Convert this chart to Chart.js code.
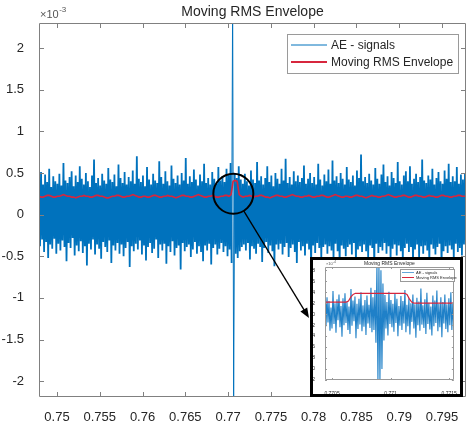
<!DOCTYPE html>
<html>
<head>
<meta charset="utf-8">
<script src="https://cdn.jsdelivr.net/npm/chart.js@4"></script>
<style>
html, body { margin: 0; padding: 0; background: #fff; }
#wrap { position: relative; width: 468px; height: 426px; }
#inset { position: absolute; left: 310px; top: 257px; width: 147px; height: 134px; border: 3px solid #000; background: #fff; }
</style>
</head>
<body>
<div id="wrap">
  <canvas id="main" width="468" height="426"></canvas>
  <div id="inset"><canvas id="zoom" width="147" height="134"></canvas></div>
</div>
<script>
const seriesNames = ['AE - signals', 'Moving RMS Envelope'];

// main plot: time window (s) and values in units of 1e-3
const tStart = 0.7479, tEnd = 0.7978;
const mainXTicks = [0.75, 0.755, 0.76, 0.765, 0.77, 0.775, 0.78, 0.785, 0.79, 0.795];
const mainYTicks = [-2, -1.5, -1, -0.5, 0, 0.5, 1, 1.5, 2];

const aeSignal = [
  .42,-.38,.51,-.30,.36,-.45,.48,-.33,.39,-.52,.55,-.36,.33,-.41,.46,-.29,.40,-.47,.37,-.35,
  .49,-.43,.35,-.31,.62,-.39,.41,-.56,.38,-.34,.45,-.40,.52,-.28,.34,-.49,.47,-.37,.39,-.44,
  .58,-.32,.43,-.46,.36,-.38,.50,-.61,.40,-.35,.33,-.42,.47,-.30,.66,-.48,.38,-.36,.44,-.41,
  .35,-.53,.49,-.33,.41,-.39,.37,-.45,.56,-.31,.42,-.58,.39,-.37,.48,-.43,.34,-.34,.60,-.47,
  .44,-.36,.38,-.50,.51,-.40,.36,-.33,.45,-.63,.40,-.38,.53,-.44,.37,-.35,.70,-.42,.43,-.31,
  .39,-.48,.47,-.37,.34,-.55,.57,-.39,.42,-.34,.36,-.46,.49,-.41,.41,-.30,.38,-.52,.64,-.36,
  .45,-.43,.37,-.35,.52,-.59,.40,-.38,.35,-.45,.59,-.32,.43,-.49,.38,-.40,.47,-.37,.36,-.66,
  .50,-.34,.41,-.44,.68,-.39,.37,-.36,.46,-.51,.39,-.42,.54,-.33,.42,-.47,.35,-.38,.48,-.45,
  .40,-.56,.61,-.37,.38,-.43,.44,-.35,.36,-.60,.51,-.40,.43,-.36,.37,-.48,.57,-.41,.41,-.34,
  .46,-.45,.39,-.38,.55,-.50,.48,-.42,.62,-.58,2.6,-2.18,.50,-.47,.44,-.52,.58,-.44,.42,-.39,
  .37,-.36,.49,-.43,.40,-.34,.35,-.54,.53,-.38,.42,-.41,.38,-.47,.63,-.35,.41,-.39,.46,-.57,
  .36,-.40,.44,-.33,.58,-.46,.39,-.37,.47,-.44,.34,-.62,.50,-.36,.43,-.42,.37,-.35,.55,-.48,
  .41,-.39,.67,-.34,.38,-.51,.45,-.40,.36,-.36,.52,-.45,.40,-.58,.47,-.33,.39,-.43,.44,-.38,
  .59,-.49,.37,-.35,.43,-.42,.50,-.64,.38,-.37,.45,-.46,.36,-.34,.61,-.40,.42,-.53,.35,-.39,
  .48,-.36,.40,-.47,.54,-.38,.37,-.43,.65,-.55,.41,-.35,.46,-.44,.38,-.61,.50,-.37,.43,-.41,
  .36,-.50,.57,-.39,.42,-.36,.39,-.48,.47,-.34,.35,-.57,.53,-.42,.44,-.38,.72,-.45,.40,-.36,
  .45,-.44,.38,-.52,.49,-.37,.41,-.40,.36,-.65,.56,-.35,.43,-.46,.37,-.39,.48,-.43,.60,-.34,
  .39,-.47,.46,-.38,.35,-.54,.51,-.41,.44,-.36,.38,-.49,.63,-.37,.40,-.44,.36,-.56,.47,-.40,
  .52,-.35,.40,-.45,.58,-.39,.37,-.60,.43,-.42,.49,-.36,.39,-.51,.45,-.38,.66,-.47,.41,-.37,
  .38,-.43,.47,-.58,.42,-.36,.55,-.41,.36,-.48,.44,-.39,.51,-.35,.40,-.63,.37,-.44,.53,-.38,
  .43,-.46,.61,-.37,.39,-.42,.46,-.53,.40,-.35,.57,-.45,.37,-.40,.48,-.49,.42,-.36,.50,-.44
];

const rmsEnvelope = [
  .22,.21,.21,.22,.23,.23,.22,.21,.21,.22,.22,.23,.24,.23,.22,
  .22,.21,.21,.20,.21,.22,.22,.23,.22,.22,.21,.21,.22,.23,.23,
  .22,.22,.21,.20,.20,.21,.22,.22,.23,.23,.22,.21,.21,.22,.22,
  .23,.24,.23,.22,.21,.21,.22,.22,.21,.21,.22,.23,.23,.22,.21,
  .21,.22,.22,.23,.22,.22,.21,.20,.21,.22,.23,.23,.22,.22,.21,
  .21,.22,.23,.24,.23,.22,.21,.21,.22,.22,.23,.22,.21,.21,.22,
  .22,.23,.23,.22,.24,.40,.41,.40,.24,.22,.21,.22,.22,.23,.22,
  .21,.22,.22,.23,.23,.22,.21,.21,.20,.21,.22,.23,.23,.22,.22,
  .21,.21,.22,.23,.24,.23,.22,.22,.21,.21,.22,.22,.23,.22,.21,
  .21,.22,.22,.23,.23,.22,.21,.21,.22,.23,.24,.23,.22,.21,.21,
  .22,.22,.21,.21,.22,.23,.23,.22,.22,.21,.20,.21,.22,.23,.22,
  .22,.21,.21,.22,.22,.23,.24,.23,.22,.21,.21,.22,.22,.23,.23,
  .22,.21,.21,.22,.23,.23,.22,.22,.21,.21,.22,.23,.22,.22,.21,
  .21,.22,.23,.23,.22,.22,.21,.21,.22,.22,.23,.23,.22,.22,.22
];

// zoomed inset: values in units of 1e-4
const zStart = 0.77044, zEnd = 0.77154;
const zoomXTicks = [0.7705, 0.771, 0.7715];
const zoomYTicks = [-12, -10, -8, -6, -4, -2, 0, 2, 4, 6, 8];

const zoomSignal = [
  1.8,-2.2,3.1,-1.5,2.4,-3.0,1.2,-2.6,4.2,-1.8,2.0,-3.4,2.7,-1.1,3.6,-2.4,1.5,-4.1,2.9,-2.0,
  3.8,-1.6,2.2,-2.9,1.4,-3.6,4.6,-2.1,2.5,-1.3,3.2,-4.4,1.9,-2.7,2.8,-1.9,4.0,-3.1,1.6,-2.3,
  2.6,-3.8,3.4,-1.7,1.7,-2.5,4.8,-3.3,3.1,-2.9,4.4,-5.2,9.0,-12.5,9.0,-12.5,8.0,-10.0,5.6,-4.8,
  3.5,-2.6,2.2,-3.9,4.1,-1.8,2.6,-2.4,1.9,-3.2,3.7,-1.6,2.8,-4.0,1.5,-2.1,3.3,-2.9,2.4,-1.7,
  4.4,-3.3,1.7,-2.2,2.9,-3.7,2.0,-1.4,3.6,-2.6,1.8,-4.3,3.0,-2.0,2.3,-3.0,4.7,-1.9,1.6,-2.5,
  2.7,-3.6,3.9,-1.8,2.1,-2.8,1.4,-3.9,3.4,-2.2,2.5,-1.6,4.3,-3.1,1.9,-2.4,3.1,-4.2,2.2,-1.7,
  3.6,-2.7,1.8,-3.3,2.9,-2.0,4.0,-2.9,2.1,-3.1
];

const zoomEnvelope = [
  2.2,2.2,2.2,2.2,2.2,2.2,2.2,2.2,2.2,2.2,
  2.4,3.1,3.6,3.8,
  3.8,3.8,3.8,3.8,3.8,3.8,3.8,3.8,3.8,3.8,3.8,3.8,3.8,3.8,3.8,3.8,3.8,3.8,3.8,3.8,3.8,
  3.6,2.8,2.2,
  2.0,2.0,2.0,2.0,2.0,2.0,2.0,2.0,2.0,2.0,2.0,2.0,2.0,2.0,2.0,2.0,2.0,2.0
];

// spot that the circle marks on the main plot (time, 1e-3)
const calloutAt = [0.77061, 0.25];

const blue = '#0072BD';
const red = '#D7263D';
const ink = '#262626';
const fam = '"Liberation Sans", Arial, sans-serif';

function toXY(vals, t0, t1) {
  return vals.map((v, i) => ({ x: t0 + (t1 - t0) * i / (vals.length - 1), y: v }));
}

// matlab-ish box with inward ticks, title, exponent and legend
function makeFrame(c) {
  return {
    id: 'frame',
    afterDatasetsDraw(chart) {
      const ctx = chart.ctx, a = chart.chartArea;
      const xs = chart.scales.x, ys = chart.scales.y;
      ctx.save();
      ctx.strokeStyle = c.axis;
      ctx.lineWidth = 1;
      ctx.beginPath();
      xs.ticks.forEach(t => {
        const p = Math.round(xs.getPixelForValue(t.value)) + 0.5;
        ctx.moveTo(p, a.bottom); ctx.lineTo(p, a.bottom - c.tick);
        ctx.moveTo(p, a.top); ctx.lineTo(p, a.top + c.tick);
      });
      ys.ticks.forEach(t => {
        const p = Math.round(ys.getPixelForValue(t.value)) + 0.5;
        ctx.moveTo(a.left, p); ctx.lineTo(a.left + c.tick, p);
        ctx.moveTo(a.right, p); ctx.lineTo(a.right - c.tick, p);
      });
      ctx.rect(Math.round(a.left) + 0.5, Math.round(a.top) + 0.5, Math.round(a.width) - 1, Math.round(a.height) - 1);
      ctx.stroke();

      ctx.fillStyle = ink;
      ctx.font = c.titleSize + 'px ' + fam;
      ctx.textAlign = 'center';
      ctx.textBaseline = 'alphabetic';
      ctx.fillText(c.title, (a.left + a.right) / 2, c.titleY);

      ctx.fillStyle = '#555';
      ctx.textAlign = 'left';
      ctx.font = c.expSize + 'px ' + fam;
      ctx.fillText('\u00d710', a.left + 1, c.expY);
      const w = ctx.measureText('\u00d710').width;
      ctx.font = c.supSize + 'px ' + fam;
      ctx.fillText(c.exp, a.left + 1 + w + 0.5, c.expY - c.supRise);

      const L = c.legend;
      ctx.fillStyle = '#fff';
      ctx.fillRect(L.x, L.y, L.w, L.h);
      ctx.strokeStyle = '#9a9a9a';
      ctx.lineWidth = 1;
      ctx.strokeRect(L.x + 0.5, L.y + 0.5, L.w, L.h);
      ctx.font = L.size + 'px ' + fam;
      ctx.textBaseline = 'middle';
      chart.data.datasets.forEach((ds, i) => {
        const yy = L.y + L.first + i * L.gap;
        ctx.strokeStyle = ds.borderColor;
        ctx.lineWidth = L.widths[i];
        ctx.beginPath();
        ctx.moveTo(L.x + L.pad, yy); ctx.lineTo(L.x + L.pad + L.len, yy);
        ctx.stroke();
        ctx.fillStyle = ink;
        ctx.fillText(ds.label, L.x + L.pad + L.len + L.gapText, yy + 0.5);
      });
      ctx.restore();
    }
  };
}

const callout = {
  id: 'callout',
  afterDraw(chart) {
    const ctx = chart.ctx;
    const cx = chart.scales.x.getPixelForValue(calloutAt[0]);
    const cy = chart.scales.y.getPixelForValue(calloutAt[1]);
    const r = 20, tip = [309, 318];
    const dx = tip[0] - cx, dy = tip[1] - cy, d = Math.hypot(dx, dy);
    const ux = dx / d, uy = dy / d;
    ctx.save();
    ctx.strokeStyle = '#000';
    ctx.fillStyle = '#000';
    ctx.lineWidth = 2;
    ctx.beginPath();
    ctx.arc(cx, cy, r, 0, Math.PI * 2);
    ctx.stroke();
    ctx.lineWidth = 1.3;
    ctx.beginPath();
    ctx.moveTo(cx + ux * r, cy + uy * r);
    ctx.lineTo(tip[0] - ux * 8, tip[1] - uy * 8);
    ctx.stroke();
    ctx.beginPath();
    ctx.moveTo(tip[0], tip[1]);
    ctx.lineTo(tip[0] - ux * 10 - uy * 4, tip[1] - uy * 10 + ux * 4);
    ctx.lineTo(tip[0] - ux * 10 + uy * 4, tip[1] - uy * 10 - ux * 4);
    ctx.closePath();
    ctx.fill();
    ctx.restore();
  }
};

function axisOpts(min, max, ticks, size, pad, fit) {
  return {
    type: 'linear', min: min, max: max,
    grid: { display: false }, border: { display: false },
    afterBuildTicks: s => { s.ticks = ticks.map(v => ({ value: v })); },
    afterFit: fit,
    ticks: {
      autoSkip: false, maxRotation: 0, padding: pad, color: ink,
      font: { family: fam, size: size },
      callback: v => String(v)
    }
  };
}

// thin line for the single large burst, thicker for the dense noise
const burstWidth = ctx => (Math.abs(ctx.p0.parsed.y) > 1 || Math.abs(ctx.p1.parsed.y) > 1) ? 1 : undefined;

new Chart(document.getElementById('main'), {
  type: 'line',
  data: {
    datasets: [
      { label: seriesNames[0], data: toXY(aeSignal, tStart, tEnd), borderColor: blue, borderWidth: 1.8, order: 1,
        segment: { borderWidth: burstWidth } },
      { label: seriesNames[1], data: toXY(rmsEnvelope, tStart, tEnd), borderColor: red, borderWidth: 1.6, order: 0 }
    ]
  },
  options: {
    responsive: false, animation: false, devicePixelRatio: 1, events: [],
    elements: { point: { radius: 0 }, line: { tension: 0 } },
    layout: { padding: { top: 23, right: 2, left: 0, bottom: 0 } },
    plugins: { legend: { display: false }, tooltip: { enabled: false } },
    scales: {
      x: axisOpts(tStart, tEnd, mainXTicks, 13, 5, s => { s.height = 29; }),
      y: axisOpts(-2.19, 2.30, mainYTicks, 13, 7, s => { s.width = 39; })
    }
  },
  plugins: [makeFrame({
    axis: '#808080', tick: 5, title: 'Moving RMS Envelope', titleSize: 14, titleY: 16,
    exp: '-3', expSize: 11, supSize: 8, expY: 18, supRise: 6,
    legend: { x: 287, y: 34, w: 171, h: 39, first: 11, gap: 17, pad: 4, len: 36, gapText: 4, size: 12, widths: [1, 2] }
  }), callout]
});

new Chart(document.getElementById('zoom'), {
  type: 'line',
  data: {
    datasets: [
      { label: seriesNames[0], data: toXY(zoomSignal, zStart, zEnd), borderColor: '#1f80c8', borderWidth: 1.1, order: 1 },
      { label: seriesNames[1], data: toXY(zoomEnvelope, zStart, zEnd), borderColor: red, borderWidth: 1.2, order: 0 }
    ]
  },
  options: {
    responsive: false, animation: false, devicePixelRatio: 1, events: [],
    elements: { point: { radius: 0 }, line: { tension: 0 } },
    layout: { padding: { top: 7, right: 5, left: 0, bottom: 0 } },
    plugins: { legend: { display: false }, tooltip: { enabled: false } },
    scales: {
      x: axisOpts(zStart, zEnd, zoomXTicks, 5, 3, s => { s.height = 14; }),
      y: axisOpts(-12, 8.6, zoomYTicks, 5, 2, s => { s.width = 12; })
    }
  },
  plugins: [makeFrame({
    axis: '#999', tick: 2, title: 'Moving RMS Envelope', titleSize: 5, titleY: 5,
    exp: '-4', expSize: 4, supSize: 3, expY: 5, supRise: 2,
    legend: { x: 87, y: 9, w: 54, h: 12, first: 3.5, gap: 5, pad: 2, len: 12, gapText: 2, size: 4, widths: [0.7, 1] }
  })]
});
</script>
</body>
</html>
